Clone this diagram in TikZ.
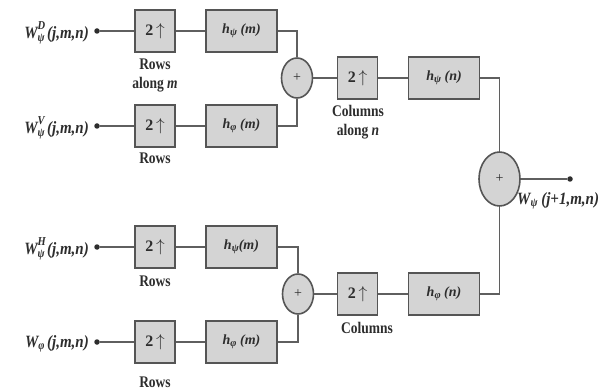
\documentclass[tikz,border=0pt]{standalone}
\usepackage{fontspec}
\setmainfont{Liberation Serif}
\usetikzlibrary{shapes.geometric}
\definecolor{boxfill}{RGB}{212,212,212}
\definecolor{edgecol}{RGB}{85,85,85}
\definecolor{wirecol}{RGB}{95,95,95}
\definecolor{inkcol}{RGB}{45,45,45}
\newcommand{\subsym}[1]{\raisebox{-0.3ex}{\fontsize{10.5}{10.5}\selectfont #1}}
\newcommand{\wlabel}[1]{W\rlap{\raisebox{1.05ex}{\fontsize{10.5}{10.5}\selectfont #1}}\raisebox{-0.4ex}{\fontsize{10.5}{10.5}\selectfont ψ}\,(j,m,n)}
\begin{document}
\begin{tikzpicture}[x=1pt,y=-1pt,
  upbox/.style={draw=edgecol,fill=boxfill,line width=1.6pt,minimum width=40pt,minimum height=42pt,inner sep=0pt,
    font=\fontsize{16}{16}\selectfont\bfseries,text=inkcol},
  filtbox/.style={draw=edgecol,fill=boxfill,line width=1.6pt,minimum width=71pt,minimum height=42pt,inner sep=0pt,
    font=\fontsize{14}{14}\selectfont\bfseries\itshape,text=inkcol},
  adder/.style={ellipse,draw=edgecol,fill=boxfill,line width=1.6pt,minimum width=31pt,minimum height=40pt,inner sep=0pt,
    font=\fontsize{14}{14}\selectfont,text=inkcol},
  bigadder/.style={adder,minimum width=41pt,minimum height=54pt},
  wire/.style={draw=wirecol,line width=1.8pt},
  portdot/.style={circle,fill=inkcol,minimum size=5.5pt,inner sep=0pt},
  note/.style={font=\fontsize{13.5}{13.5}\selectfont\bfseries,text=inkcol,inner sep=0pt,yscale=1.2,transform shape},
  sig/.style={font=\fontsize{15}{15}\selectfont\bfseries\itshape,text=inkcol,inner sep=0pt,yscale=1.15,transform shape}
]
\useasboundingbox (0,0) rectangle (613,390);

% wires first, so the blocks sit on top of them
\coordinate (p1) at (97,31);
\coordinate (p2) at (97,126);
\coordinate (p3) at (97,247);
\coordinate (p4) at (97,342);
\coordinate (po) at (570,179);

% row upsampling and filtering
\node[upbox] (u1) at (155,31) {2\,$\uparrow$};
\node[upbox] (u2) at (155,126) {2\,$\uparrow$};
\node[upbox] (u3) at (155,247) {2\,$\uparrow$};
\node[upbox] (u4) at (155,342) {2\,$\uparrow$};

\node[filtbox] (h1) at (241.5,31) {h\subsym{ψ} (m)};
\node[filtbox] (h2) at (241.5,126) {h\subsym{φ} (m)};
\node[filtbox] (h3) at (241.5,247) {h\subsym{ψ}(m)};
\node[filtbox] (h4) at (241.5,342) {h\subsym{φ} (m)};

% first adders
\node[adder] (s1) at (297,78) {+};
\node[adder] (s2) at (298,294) {+};

% column upsampling and filtering
\node[upbox] (u5) at (357.5,78) {2\,$\uparrow$};
\node[upbox] (u6) at (357.5,294) {2\,$\uparrow$};
\node[filtbox] (h5) at (444,78) {h\subsym{ψ} (n)};
\node[filtbox] (h6) at (444,294) {h\subsym{φ} (n)};

% output adder
\node[bigadder] (B) at (499.5,179) {+};

% ports
\node[portdot] (in1) at (p1) {};
\node[portdot] (in2) at (p2) {};
\node[portdot] (in3) at (p3) {};
\node[portdot] (in4) at (p4) {};
\node[portdot] (out) at (po) {};

% connections
\draw[wire] (in1) -- (u1); \draw[wire] (u1) -- (h1);
\draw[wire] (in2) -- (u2); \draw[wire] (u2) -- (h2);
\draw[wire] (in3) -- (u3); \draw[wire] (u3) -- (h3);
\draw[wire] (in4) -- (u4); \draw[wire] (u4) -- (h4);
\draw[wire] (h1.east) -| (s1.north);
\draw[wire] (h2.east) -| (s1.south);
\draw[wire] (h3.east) -| (s2.north);
\draw[wire] (h4.east) -| (s2.south);
\draw[wire] (s1) -- (u5); \draw[wire] (u5) -- (h5);
\draw[wire] (s2) -- (u6); \draw[wire] (u6) -- (h6);
\draw[wire] (h5.east) -| (B.north);
\draw[wire] (h6.east) -| (B.south);
\draw[wire] (B) -- (out);

% signal names
\node[sig,anchor=east] (l1) at (89,33) {\wlabel{D}};
\node[sig,anchor=east] (l2) at (89,128) {\wlabel{V}};
\node[sig,anchor=east] (l3) at (89,249) {\wlabel{H}};
\node[sig,anchor=east] (l4) at (89,344) {W\subsym{φ}\,(j,m,n)};
\node[sig,anchor=west] (lo) at (517,201) {W\subsym{ψ} (j+1,m,n)};

% stage notes
\node[note] (r1a) at (155,64) {Rows};
\node[note] (r1b) at (155,85) {along \textit{m}};
\node[note] (r2) at (155,158) {Rows};
\node[note] (r3) at (155,281) {Rows};
\node[note] (r4) at (155,382) {Rows};
\node[note] (c1a) at (358,111) {Columns};
\node[note] (c1b) at (358,132) {along \textit{n}};
\node[note] (c2) at (367,328) {Columns};
\end{tikzpicture}
\end{document}
